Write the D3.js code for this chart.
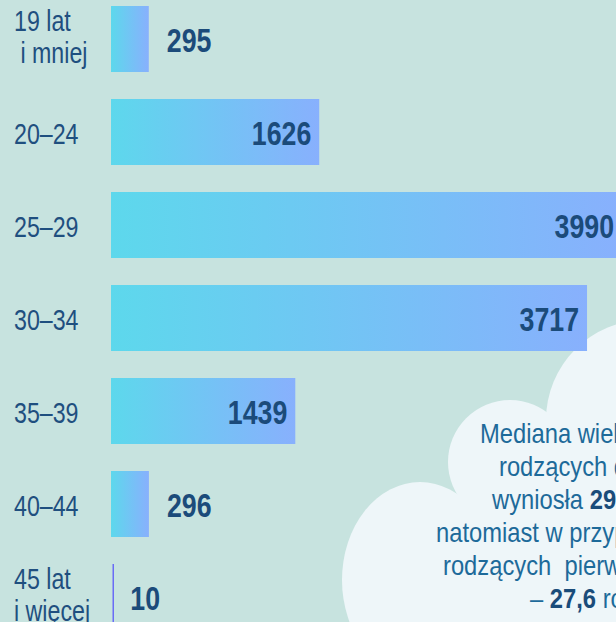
<!DOCTYPE html>
<html>
<head>
<meta charset="utf-8">
<script src="https://cdn.jsdelivr.net/npm/d3@7"></script>
<style>
  html, body { margin: 0; padding: 0; background: #c7e3df; overflow: hidden; }
  svg { display: block; }
</style>
</head>
<body>
<script>
// ---- data ----
const categories = ["19 lat\n i mniej", "20–24", "25–29", "30–34", "35–39", "40–44", "45 lat\ni więcej"];
const values = [295, 1626, 3990, 3717, 1439, 296, 10];
const noteLines = [
  [{t: "Mediana wieku kobiet", b: false}],
  [{t: "rodzących dzieci", b: false}],
  [{t: "wyniosła ", b: false}, {t: "29,9", b: true}, {t: " roku,", b: false}],
  [{t: "natomiast w przypadku kobiet", b: false}],
  [{t: "rodzących  pierwsze dziecko", b: false}],
  [{t: "– ", b: false}, {t: "27,6", b: true}, {t: " roku.", b: false}]
];

// ---- layout ----
const W = 616, H = 622;
const FONT = "'Liberation Sans', Arial, sans-serif";
const svg = d3.select("body").append("svg").attr("width", W).attr("height", H);

svg.append("rect").attr("width", W).attr("height", H).attr("fill", "#c7e3df");

const x = d3.scaleLinear().domain([0, 3990]).range([111, 622]);
const step = 93, barH = 66, top0 = 6;
const yTop = d3.scalePoint().domain(categories).range([top0, top0 + step * (categories.length - 1)]);

// ---- cloud (behind bars) ----
const cloud = svg.append("g").attr("fill", "#eef6f9");
cloud.append("circle").attr("cx", 646).attr("cy", 420).attr("r", 100);
cloud.append("circle").attr("cx", 510).attr("cy", 462).attr("r", 62);
cloud.append("ellipse").attr("cx", 420).attr("cy", 580).attr("rx", 78).attr("ry", 98);
cloud.append("rect").attr("x", 460).attr("y", 470).attr("width", 200).attr("height", 200);

// ---- gradient ----
const defs = svg.append("defs");
const grad = defs.append("linearGradient").attr("id", "barGrad")
  .attr("x1", "0%").attr("x2", "100%").attr("y1", "0%").attr("y2", "0%");
grad.append("stop").attr("offset", "0%").attr("stop-color", "#5dd8ec");
grad.append("stop").attr("offset", "100%").attr("stop-color", "#88b0fd");

const data = categories.map((c, i) => ({c, v: values[i]}));
const thin = d => (x(d.v) - x(0)) < 3;
const inside = d => (x(d.v) - x(0)) > 100;

// ---- bars ----
svg.append("g").selectAll("rect").data(data).join("rect")
  .attr("x", d => thin(d) ? x(0) + 1.5 : x(0))
  .attr("y", d => yTop(d.c))
  .attr("width", d => Math.max(1.5, x(d.v) - x(0)))
  .attr("height", barH)
  .attr("fill", d => thin(d) ? "#6a6cf6" : "url(#barGrad)");

// ---- value labels (condensed) ----
const SXV = 0.81;
svg.append("g").selectAll("text").data(data).join("text")
  .attr("font-family", FONT)
  .attr("font-weight", "bold")
  .attr("font-size", 33)
  .attr("fill", "#1b4b7a")
  .attr("text-anchor", d => inside(d) ? "end" : "start")
  .attr("transform", d => {
    const tx = inside(d) ? x(d.v) - 8 : x(d.v) + 18;
    const ty = yTop(d.c) + barH / 2 + 13;
    return `translate(${tx},${ty}) scale(${SXV},1)`;
  })
  .text(d => d.v);

// ---- category labels (condensed) ----
const SXL = 0.8;
const labG = svg.append("g")
  .attr("font-family", FONT)
  .attr("font-size", 29)
  .attr("fill", "#1f4f7f");
data.forEach(d => {
  const lines = d.c.split("\n");
  const cy = yTop(d.c) + barH / 2;
  const offs = lines.length === 1 ? [12] : [-8, 24];
  lines.forEach((ln, j) => {
    labG.append("text")
      .attr("transform", `translate(14,${cy + offs[j]}) scale(${SXL},1)`)
      .attr("xml:space", "preserve")
      .style("white-space", "pre")
      .text(ln);
  });
});

// ---- note text ----
const SXN = 0.88;
const noteX = [480, 499, 492, 436, 443, 530];
const note = svg.append("g")
  .attr("font-family", FONT)
  .attr("font-size", 27)
  .attr("fill", "#1d6a9a");
note.selectAll("text").data(noteLines).join("text")
  .attr("transform", (d, i) => `translate(${noteX[i]},${443 + i * 33}) scale(${SXN},1)`)
  .attr("xml:space", "preserve")
  .style("white-space", "pre")
  .each(function(d) {
    d3.select(this).selectAll("tspan").data(d).join("tspan")
      .attr("font-weight", s => s.b ? "bold" : null)
      .attr("fill", s => s.b ? "#1a4c7a" : null)
      .text(s => s.t);
  });
</script>
</body>
</html>
